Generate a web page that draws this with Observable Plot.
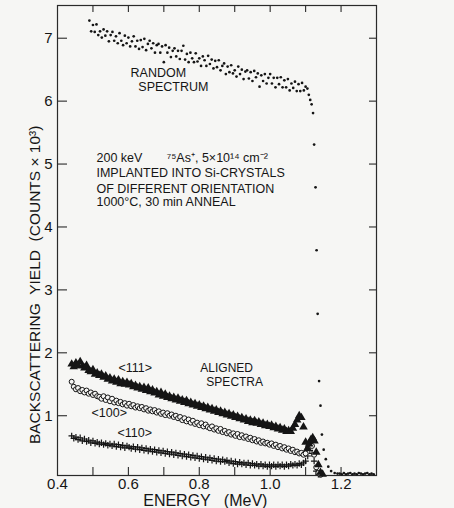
<!DOCTYPE html>
<html>
<head>
<meta charset="utf-8">
<script src="https://cdn.jsdelivr.net/npm/d3@7"></script>
<script src="https://cdn.jsdelivr.net/npm/@observablehq/plot@0.6"></script>
<style>
  html, body { margin: 0; padding: 0; background: #f6f6f4; }
  svg text { white-space: pre; }
</style>
</head>
<body>
<div id="chart"></div>
<script>
// ---- data ----
// RANDOM spectrum: channel grid start/step (MeV) and counts (x10^3)
const randomE0 = 0.490, randomStep = 0.005;
const randomCounts = [
  7.28,7.11,7.21,7.10,7.22,7.05,7.11,7.01,7.14,7.04,
  7.11,6.95,7.05,7.10,6.96,7.03,6.92,7.08,6.96,6.89,
  7.04,6.92,7.01,6.87,6.95,7.03,6.87,6.96,6.83,6.97,
  6.86,6.99,6.81,6.91,6.96,6.84,6.92,6.77,6.89,6.91,
  6.77,6.87,6.62,6.89,6.77,6.85,6.70,6.80,6.84,6.71,
  6.80,6.67,6.80,6.88,6.66,6.75,6.62,6.77,6.68,6.62,
  6.76,6.63,6.68,6.56,6.71,6.65,6.56,6.72,6.59,6.66,
  6.52,6.64,6.54,6.65,6.49,6.56,6.60,6.43,6.55,6.46,
  6.57,6.44,6.49,6.39,6.55,6.43,6.50,6.35,6.47,6.49,
  6.36,6.46,6.32,6.48,6.38,6.44,6.23,6.41,6.32,6.43,
  6.28,6.37,6.43,6.28,6.37,6.22,6.37,6.27,6.38,6.22,
  6.33,6.22,6.35,6.17,6.28,6.21,6.31,6.16,6.27,6.16,
  6.29,6.17,6.23
];
// RANDOM spectrum: surface edge and baseline
const randomEdgeE = [1.105,1.109,1.113,1.117,1.121,1.124,1.128,1.131,1.134,1.138,1.142,1.146,1.151,1.157,1.164,1.172,1.182,1.190];
const randomEdgeCounts = [6.20,6.10,6.02,5.95,5.81,5.31,4.63,3.63,2.62,1.55,1.16,0.70,0.46,0.31,0.19,0.12,0.09,0.08];
const baseE = [1.196,1.202,1.208,1.214,1.220,1.226,1.232,1.238,1.244,1.250,1.256,1.262,1.268,1.274,1.280,1.286,1.292];
const baseCounts = [0.08,0.07,0.09,0.07,0.08,0.09,0.07,0.08,0.07,0.09,0.08,0.07,0.08,0.09,0.07,0.08,0.07];

// ALIGNED spectra: channel grid start/step (MeV)
const alignedE0 = 0.440, alignedStep = 0.006;
const counts111 = [
  1.82,1.78,1.84,1.80,1.86,1.79,1.76,1.80,1.72,1.70,
  1.73,1.66,1.68,1.64,1.66,1.61,1.63,1.58,1.60,1.55,
  1.58,1.53,1.57,1.51,1.54,1.50,1.53,1.49,1.51,1.46,
  1.48,1.44,1.46,1.42,1.45,1.40,1.44,1.38,1.41,1.36,
  1.38,1.33,1.37,1.31,1.34,1.29,1.31,1.27,1.29,1.25,
  1.28,1.23,1.25,1.21,1.24,1.19,1.21,1.17,1.19,1.15,
  1.17,1.13,1.15,1.11,1.13,1.09,1.11,1.07,1.09,1.05,
  1.07,1.03,1.05,1.01,1.03,0.99,1.01,0.97,0.99,0.95,
  0.97,0.93,0.95,0.91,0.93,0.89,0.92,0.88,0.90,0.86,
  0.88,0.84,0.86,0.83,0.85,0.81,0.83,0.79,0.81,0.77,
  0.79,0.75,0.76,0.75,0.80,0.86,0.93,1.00,0.97,0.82,
  0.58
];
const tail111E = [1.105,1.110,1.115,1.120,1.125,1.130,1.136,1.142,1.148];
const tail111 = [0.48,0.55,0.62,0.65,0.60,0.42,0.22,0.10,0.07];

const counts100 = [
  1.54,1.46,1.42,1.44,1.39,1.41,1.37,1.40,1.35,1.37,
  1.33,1.35,1.31,1.30,1.27,1.31,1.25,1.29,1.23,1.27,
  1.21,1.24,1.20,1.22,1.18,1.20,1.16,1.19,1.15,1.17,
  1.13,1.15,1.12,1.14,1.10,1.12,1.08,1.10,1.07,1.09,
  1.05,1.07,1.03,1.05,1.01,1.04,1.00,1.02,0.98,1.00,
  0.96,0.98,0.93,0.96,0.91,0.94,0.89,0.92,0.87,0.89,
  0.85,0.88,0.83,0.86,0.82,0.80,0.83,0.78,0.80,0.76,
  0.79,0.74,0.76,0.72,0.74,0.70,0.72,0.68,0.71,0.66,
  0.69,0.65,0.67,0.63,0.65,0.61,0.63,0.59,0.61,0.57,
  0.59,0.56,0.57,0.54,0.56,0.52,0.54,0.50,0.52,0.48,
  0.50,0.46,0.48,0.44,0.46,0.42,0.43,0.40,0.41,0.38,
  0.40
];
const tail100E = [1.106,1.112,1.118,1.124,1.130,1.136,1.142];
const tail100 = [0.48,0.55,0.52,0.38,0.18,0.09,0.06];

const counts110 = [
  0.68,0.64,0.66,0.62,0.65,0.60,0.63,0.59,0.61,0.57,
  0.60,0.56,0.58,0.55,0.57,0.54,0.56,0.53,0.55,0.52,
  0.55,0.51,0.54,0.50,0.53,0.49,0.52,0.50,0.48,0.51,
  0.47,0.50,0.46,0.49,0.45,0.48,0.44,0.47,0.43,0.46,
  0.42,0.45,0.41,0.44,0.40,0.43,0.39,0.42,0.38,0.41,
  0.37,0.40,0.36,0.39,0.35,0.38,0.34,0.37,0.33,0.36,
  0.32,0.35,0.31,0.34,0.30,0.33,0.29,0.32,0.28,0.31,
  0.27,0.30,0.27,0.29,0.25,0.28,0.24,0.27,0.23,0.26,
  0.23,0.25,0.22,0.25,0.21,0.24,0.21,0.23,0.20,0.23,
  0.20,0.22,0.19,0.22,0.20,0.22,0.19,0.22,0.20,0.22,
  0.19,0.22,0.20,0.23,0.21,0.23,0.21,0.24,0.22,0.25,
  0.28
];
const tail110E = [1.106,1.112,1.118,1.124,1.130,1.136];
const tail110 = [0.36,0.45,0.40,0.28,0.12,0.07];

// axis ticks
const xMinorTicks = [0.5,0.6,0.7,0.8,0.9,1.0,1.1,1.2];
const xLabelTicks = [0.4,0.6,0.8,1.0,1.2];
const yTicks = [1,2,3,4,5,6,7];

// texts
const xLabel = "ENERGY   (MeV)";
const yLabel = "BACKSCATTERING  YIELD  (COUNTS × 10³)";
const annotations = [
  {e: 0.606, v: 6.44, t: "RANDOM"},
  {e: 0.628, v: 6.23, t: "SPECTRUM"},
  {e: 0.510, v: 5.09, t: "200 keV       ⁷⁵As⁺, 5×10¹⁴ cm⁻²"},
  {e: 0.510, v: 4.85, t: "IMPLANTED INTO Si-CRYSTALS"},
  {e: 0.510, v: 4.61, t: "OF DIFFERENT ORIENTATION"},
  {e: 0.510, v: 4.39, t: "1000°C, 30 min ANNEAL"},
  {e: 0.572, v: 1.76, t: "<111>"},
  {e: 0.496, v: 1.05, t: "<100>"},
  {e: 0.569, v: 0.73, t: "<110>"}
];
const alignedLabel = [
  {e: 0.803, v: 1.75, t: "ALIGNED"},
  {e: 0.820, v: 1.54, t: "SPECTRA"}
];

// ---- build tables ----
const grid = (E0, dE, vals) => vals.map((v, i) => ({e: E0 + i * dE, v}));
const pairs = (es, vs) => es.map((e, i) => ({e, v: vs[i]}));
const randomPts = [
  ...grid(randomE0, randomStep, randomCounts),
  ...pairs(randomEdgeE, randomEdgeCounts),
  ...pairs(baseE, baseCounts)
];
const pts111 = [...grid(alignedE0, alignedStep, counts111), ...pairs(tail111E, tail111)];
const pts100 = [...grid(alignedE0, alignedStep, counts100), ...pairs(tail100E, tail100)];
const pts110 = [...grid(alignedE0, alignedStep, counts110), ...pairs(tail110E, tail110)];

const ink = "#151515";
const bg = "#f6f6f4";
const frameInk = "#2a2a2a";
const W = 454, H = 508, mL = 57, mR = 78, mT = 5, mB = 33;
const fw = W - mL - mR, fh = H - mT - mB;

const chart = Plot.plot({
  width: W,
  height: H,
  marginLeft: mL,
  marginRight: mR,
  marginTop: mT,
  marginBottom: mB,
  style: {background: bg, fontFamily: "'Liberation Sans', Arial, sans-serif", color: ink, overflow: "visible"},
  x: {domain: [0.4, 1.3]},
  y: {domain: [0.05, 7.52]},
  marks: [
    Plot.frame({stroke: frameInk, strokeWidth: 1.2}),
    // inward ticks
    Plot.tickX(xMinorTicks, {x: d => d, insetTop: fh - 8, stroke: frameInk, strokeWidth: 1.1}),
    Plot.tickX(xMinorTicks, {x: d => d, insetBottom: fh - 7, stroke: frameInk, strokeWidth: 1.1}),
    Plot.tickY(yTicks, {y: d => d, insetRight: fw - 10, stroke: frameInk, strokeWidth: 1.1}),
    Plot.tickY(yTicks, {y: d => d, insetLeft: fw - 7, stroke: frameInk, strokeWidth: 1.1}),
    // tick labels
    Plot.axisX({anchor: "bottom", ticks: xLabelTicks, tickSize: 0, tickPadding: 3, fontSize: 15, label: null, tickFormat: d => d.toFixed(1)}),
    Plot.axisY({anchor: "left", ticks: yTicks, tickSize: 0, tickPadding: 5, fontSize: 15, label: null}),
    // data
    Plot.dot(randomPts, {x: "e", y: "v", r: 1.35, fill: ink, stroke: null}),
    Plot.dot(pts110, {x: "e", y: "v", symbol: "plus", r: 2.2, stroke: ink, strokeWidth: 1.2}),
    Plot.dot(pts100, {x: "e", y: "v", symbol: "circle", r: 2.5, stroke: ink, fill: bg, strokeWidth: 1}),
    Plot.dot(pts111, {x: "e", y: "v", symbol: "triangle", r: 3.2, fill: ink, stroke: null}),
    // texts
    Plot.text(annotations, {x: "e", y: "v", text: "t", textAnchor: "start", fontSize: 12.5, fill: ink}),
    Plot.text(alignedLabel, {x: "e", y: "v", text: "t", textAnchor: "start", fontSize: 12, fill: ink}),
    Plot.text([xLabel], {x: [0.817], text: d => d, frameAnchor: "bottom", lineAnchor: "middle", dy: 25, fontSize: 16, fill: ink}),
    Plot.text([yLabel], {y: [3.08], text: d => d, frameAnchor: "left", textAnchor: "middle", lineAnchor: "middle", dx: -22, rotate: -90, fontSize: 15.5, fill: ink})
  ]
});
document.getElementById("chart").appendChild(chart);
</script>
</body>
</html>
